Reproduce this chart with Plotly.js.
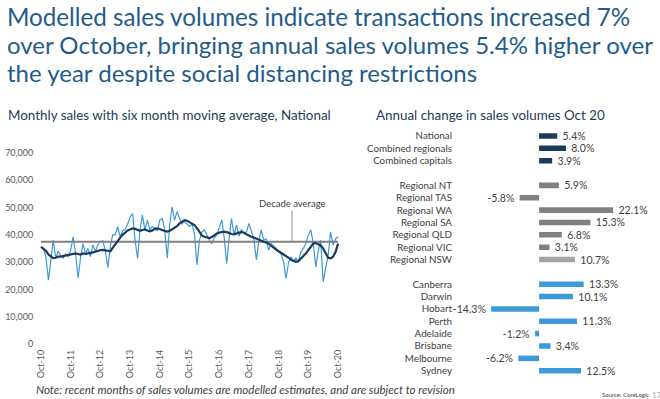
<!DOCTYPE html>
<html><head><meta charset="utf-8">
<script src="https://cdn.plot.ly/plotly-3.0.1.min.js"></script>
<style>html,body{margin:0;padding:0;background:#fff;} #chart{width:660px;height:399px;}</style>
</head><body><div id="chart"></div>
<script>
// ---- Left chart data: monthly sales volumes, Oct-10 .. Oct-20 ----
const firstMonth = [2010, 10];
const monthlySales = [
  35600, 35000, 32000,
  23400, 31000, 38000, 31500, 34000, 32500, 31400, 33000, 32000, 34400, 39300, 33000,
  24200, 32000, 36800, 33000, 35000, 32000, 36300, 34000, 36500, 37500, 37800, 34000,
  28000, 36000, 40000, 40000, 43000, 39300, 41500, 42000, 44000, 46600, 47800, 38000,
  31400, 42000, 47200, 41800, 45400, 41800, 43000, 42500, 41500, 45400, 46000, 41800,
  31400, 44000, 50300, 45400, 48500, 46000, 44000, 45000, 44000, 43000, 44000, 40500,
  29000, 38000, 41000, 41800, 40000, 38000, 36800, 39000, 40000, 43000, 45500, 39000,
  29500, 39000, 46000, 40000, 43600, 39500, 42000, 40500, 41000, 44200, 41000, 38500,
  30800, 38000, 41800, 38000, 38500, 34400, 36800, 36000, 35000, 34000, 33000, 30100,
  24000, 30000, 32000, 30500, 31500, 30100, 33800, 35000, 36800, 40000, 41800, 37000,
  28300, 34000, 38000, 22800, 28000, 32600, 41000, 36300, 38500, 39300
];
const movingAverage = [
  35600, 35000, 34200, 32800, 32000, 31500, 31600, 32000, 32000, 32200, 32300, 32500,
  32600, 33000, 33200, 33000, 32800, 33200, 33000, 33200, 33300, 33600, 33800, 34200,
  34400, 34500, 34400, 34200, 34000, 35200, 36500, 38000, 39000, 40000, 41000, 41600,
  42000, 42400, 42200, 41800, 41500, 41800, 42000, 41600, 41300, 41600, 42200, 42400,
  42200, 41800, 41400, 41200, 41500, 42000, 42500, 43200, 44200, 44800, 45400, 45200,
  44600, 44000, 43600, 42500, 41000, 39800, 39300, 39000, 38800, 39200, 40000, 40500,
  40800, 41000, 41200, 41000, 40600, 40300, 40200, 40600, 40800, 41000, 40800, 40200,
  39600, 39300, 39000, 38600, 38000, 37800, 37500, 37200, 36800, 36000, 35200, 34600,
  34000, 33400, 32800, 32400, 31600, 30900, 30400, 30100, 30300, 31200, 32200, 33200,
  34400, 35600, 36800, 37000, 36600, 36100, 35000, 33400, 31600, 31400, 32000, 33800, 36800
];
const decadeAverage = 37500;
const xTickLabels = ['Oct-10','Oct-11','Oct-12','Oct-13','Oct-14','Oct-15','Oct-16','Oct-17','Oct-18','Oct-19','Oct-20'];
const yTickValues = [0, 10000, 20000, 30000, 40000, 50000, 60000, 70000];

// ---- Right chart data: annual change in sales volumes Oct 20 (%) ----
const nationalCats = ['National', 'Combined regionals', 'Combined capitals'];
const nationalVals = [5.4, 8.0, 3.9];
const regionalCats = ['Regional NT', 'Regional TAS', 'Regional WA', 'Regional SA', 'Regional QLD', 'Regional VIC', 'Regional NSW'];
const regionalVals = [5.9, -5.8, 22.1, 15.3, 6.8, 3.1, 10.7];
const capitalCats = ['Canberra', 'Darwin', 'Hobart', 'Perth', 'Adelaide', 'Brisbane', 'Melbourne', 'Sydney'];
const capitalVals = [13.3, 10.1, -14.3, 11.3, -1.2, 3.4, -6.2, 12.5];

// ---- build month axis ----
function pad(n){ return (n < 10 ? '0' : '') + n; }
const months = monthlySales.map((_, i) => {
  const t = (firstMonth[0] * 12 + firstMonth[1] - 1) + i;
  return Math.floor(t / 12) + '-' + pad(t % 12 + 1) + '-01';
});
const tickDates = xTickLabels.map((_, k) => months[k * 12]);
const rowOrder = [...nationalCats, ' ', ...regionalCats, '  ', ...capitalCats];

const W = 660, H = 399;
const px = x => x / W, py = y => 1 - y / H;

const navy = '#1b3a5c', lightBlue = '#3d9ad8';
const txt = '#404040';
const gap = '\u00a0\u00a0';
const labelTemplates = vals => vals.map(v => v >= 0 ? gap + '%{x:.1f}%' : '%{x:.1f}%' + gap);

const barCommon = {
  type: 'bar', orientation: 'h', xaxis: 'x2', yaxis: 'y2', width: 0.45,
  textposition: 'outside', constraintext: 'none',
  textfont: { size: 10.5, color: txt }, cliponaxis: false, hoverinfo: 'skip'
};

const traces = [
  { type: 'scatter', mode: 'lines', x: months, y: monthlySales, xaxis: 'x', yaxis: 'y',
    line: { color: lightBlue, width: 1.2 }, hoverinfo: 'skip' },
  { type: 'scatter', mode: 'lines', x: [months[0], months[months.length - 1]], y: [decadeAverage, decadeAverage],
    xaxis: 'x', yaxis: 'y', line: { color: '#808080', width: 2 }, hoverinfo: 'skip' },
  { type: 'scatter', mode: 'lines', x: months, y: movingAverage, xaxis: 'x', yaxis: 'y',
    line: { color: navy, width: 2.2 }, hoverinfo: 'skip' },
  Object.assign({}, barCommon, { x: nationalVals, y: nationalCats, marker: { color: navy },
    texttemplate: labelTemplates(nationalVals) }),
  Object.assign({}, barCommon, { x: regionalVals, y: regionalCats,
    marker: { color: ['#808080','#808080','#808080','#808080','#808080','#808080','#a5a5a5'] },
    texttemplate: labelTemplates(regionalVals) }),
  Object.assign({}, barCommon, { x: capitalVals, y: capitalCats, marker: { color: lightBlue },
    texttemplate: labelTemplates(capitalVals) })
];

const ann = (text, x, y, size, color, xanchor, extra) => Object.assign({
  text, x: px(x), y: py(y), xref: 'paper', yref: 'paper', showarrow: false,
  xanchor: xanchor || 'left', yanchor: 'middle', font: { size, color }
}, extra || {});

const titleColor = '#1f5c8b';
const layout = {
  width: W, height: H, margin: { l: 0, r: 0, t: 0, b: 0 },
  paper_bgcolor: '#ffffff', plot_bgcolor: 'rgba(0,0,0,0)', showlegend: false,
  font: { family: 'Lato, "Open Sans", sans-serif', color: txt },
  barmode: 'overlay',
  xaxis: { domain: [px(37.3), px(340.5)], type: 'date', range: ['2010-08-17', '2020-10-31'],
    tickmode: 'array', tickvals: tickDates, ticktext: xTickLabels, tickangle: -90,
    tickfont: { size: 9, color: '#595959' }, showgrid: false, zeroline: false, showline: false, ticks: '',
    ticklabelstandoff: 3 },
  yaxis: { domain: [55 / H, 246 / H], range: [0, 70000], tickmode: 'array', tickvals: yTickValues,
    tickformat: ',', tickfont: { size: 9, color: '#595959' }, showgrid: false, zeroline: false, ticks: '',
    ticklabelstandoff: 3 },
  xaxis2: { domain: [px(454), px(650)], anchor: 'y2', range: [-25.4, 33.1], visible: false },
  yaxis2: { domain: [22.1 / H, 269.2 / H], anchor: 'x2', type: 'category', categoryorder: 'array',
    categoryarray: rowOrder, range: [19.5, -0.5], tickmode: 'linear', tick0: 0, dtick: 1,
    tickfont: { size: 9.8, color: txt }, ticklabelstandoff: 1,
    showgrid: false, zeroline: false, showline: false, ticks: '' },
  annotations: [
    ann('Modelled sales volumes indicate transactions increased 7%', 5, 17, 24.2, titleColor),
    ann('over October, bringing annual sales volumes 5.4% higher over', 5, 45, 24, titleColor),
    ann('the year despite social distancing restrictions', 5, 73, 24, titleColor),
    ann('Monthly sales with six month moving average, National', 6, 115, 13.4, '#1f3b5a'),
    ann('Annual change in sales volumes Oct 20', 374, 115, 13.4, '#1f3b5a'),
    ann('<i>Note: recent months of sales volumes are modelled estimates, and are subject to revision</i>', 34, 389, 11.5, txt),
    ann('Source: CoreLogic', 600, 394, 6, txt),
    ann('17', 650, 395, 8, '#a0a0a0'),
    { text: 'Decade average', x: '2019-03-15', y: decadeAverage, xref: 'x', yref: 'y',
      showarrow: true, arrowhead: 0, arrowwidth: 1.3, arrowcolor: '#a6a6a6', ax: 0, ay: -38,
      standoff: 0, font: { size: 9.5, color: txt } }
  ]
};

Plotly.newPlot('chart', traces, layout, { displayModeBar: false, staticPlot: true });
</script>
</body></html>
